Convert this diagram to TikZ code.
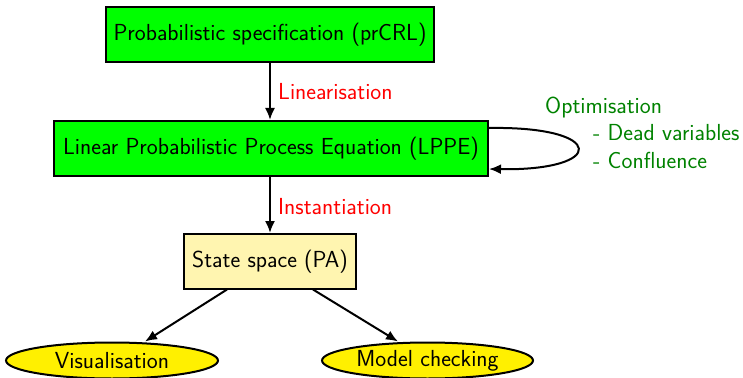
\documentclass[tikz,border=0pt]{standalone}
\usetikzlibrary{arrows.meta,shapes.geometric}
\definecolor{boxgreen}{RGB}{0,255,0}
\definecolor{txtgreen}{RGB}{0,130,0}
\definecolor{lightyel}{RGB}{255,245,176}
\definecolor{ellyel}{RGB}{255,240,0}
\begin{document}
\begin{tikzpicture}[x=1pt,y=-1pt,
  font=\sffamily\fontsize{23.2}{27}\selectfont,
  box/.style={draw=black,line width=2pt,rectangle,minimum height=55pt,inner sep=0pt},
  oval/.style={draw=black,line width=2pt,ellipse,fill=ellyel,minimum height=36pt,inner sep=0pt},
  arr/.style={line width=2pt,-{Latex[length=12pt,width=10pt]}},
  lbl/.style={anchor=west,inner sep=0pt}]
\useasboundingbox (0,0) rectangle (743,377);
\node[box,fill=boxgreen,minimum width=328pt] (spec) at (270,34.5) {Probabilistic specification (prCRL)};
\node[box,fill=boxgreen,minimum width=434pt] (lppe) at (271,148.5) {Linear Probabilistic Process Equation (LPPE)};
\node[box,fill=lightyel,minimum width=172pt] (ss) at (270,261.5) {State space (PA)};
\node[oval,minimum width=212pt] (vis) at (112,360.5) {Visualisation};
\node[oval,minimum width=211pt] (mc) at (427.5,360.5) {Model checking};
\draw[arr] (spec.south -| 270,0) -- (lppe.north -| 270,0);
\draw[arr] (lppe.south -| 270,0) -- (ss.north -| 270,0);
\node[lbl,text=red] (lin) at (278,92) {Linearisation};
\node[lbl,text=red] (inst) at (278,207) {Instantiation};
\coordinate (lo) at ([yshift=20.5pt]lppe.east);
\coordinate (li) at ([yshift=-20.5pt]lppe.east);
\draw[arr] (lo) .. controls (607,126) and (607,171) .. (li);
\node[lbl,text=txtgreen] (opt) at (545,108) {Optimisation};
\node[lbl,text=txtgreen] (dead) at (593,133) {- Dead variables};
\node[lbl,text=txtgreen] (conf) at (593,160) {- Confluence};
\coordinate (s1) at (227,289.5);
\coordinate (s2) at (313,289.5);
\draw[arr] (s1) -- (vis.north -| 145,0);
\draw[arr] (s2) -- (mc.north -| 398,0);
\end{tikzpicture}
\end{document}
